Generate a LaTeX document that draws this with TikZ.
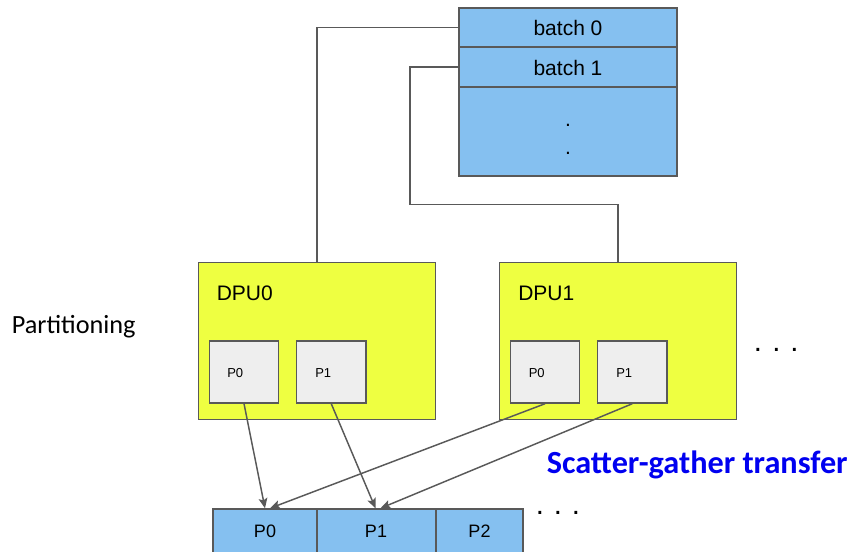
\documentclass[tikz,border=0pt]{standalone}
\usepackage{fontspec}
\setmainfont{Liberation Sans}
\newfontfamily\calibri{Carlito}
\usetikzlibrary{fit,calc,arrows.meta}

\definecolor{edgegray}{RGB}{89,89,89}
\definecolor{batchblue}{RGB}{133,192,240}
\definecolor{dpuyellow}{RGB}{238,255,65}
\definecolor{partgray}{RGB}{238,238,238}
\definecolor{titleblue}{RGB}{0,0,240}

\newcommand{\fs}[1]{\fontsize{#1}{1.2\dimexpr#1pt\relax}\selectfont}

\tikzset{
  box/.style={draw=edgegray, line width=1.1pt, inner sep=0pt},
  batchbox/.style={box, fill=batchblue},
  dpubox/.style={box, fill=dpuyellow},
  partbox/.style={box, fill=partgray},
  outbox/.style={box, fill=batchblue},
  wire/.style={draw=edgegray, line width=1.1pt},
  xfer/.style={wire, -{Stealth[length=7.5pt,width=6.5pt,inset=1.5pt]}},
  lbl/.style={inner sep=0pt, anchor=west},
  txt/.style={inner sep=0pt},
  dot/.style={inner sep=0pt, font=\fs{22}},
}

\begin{document}
\begin{tikzpicture}[x=0.75pt,y=-0.75pt]
\useasboundingbox (0,0) rectangle (853,552);
\clip (0,0) rectangle (853,552);

% batch buffer
\node[batchbox, fit={(459,8)(677,47)}] (b0) {};
\node[batchbox, fit={(459,47)(677,87)}] (b1) {};
\node[batchbox, fit={(459,87)(677,176)}] (brest) {};
\node[txt, font=\fs{15.75}] (b0l) at (568,28) {batch 0};
\node[txt, font=\fs{15.75}] (b1l) at (568,68) {batch 1};
\node[txt, font=\fs{15.75}] (bd1) at (568,125) {.};
\node[txt, font=\fs{15.75}] (bd2) at (568,153) {.};

% DPUs
\node[dpubox, fit={(198.5,262.5)(435.5,419.5)}] (dpu0) {};
\node[dpubox, fit={(499.5,262.5)(736.5,419.5)}] (dpu1) {};
\node[lbl, font=\fs{15.75}] (dpu0l) at (216.5,293) {DPU0};
\node[lbl, font=\fs{15.75}] (dpu1l) at (518,293) {DPU1};

\node[partbox, fit={(209.5,341)(278.5,403)}] (d0p0) {};
\node[partbox, fit={(296.5,341)(366,403)}] (d0p1) {};
\node[partbox, fit={(510.5,341)(579.5,403)}] (d1p0) {};
\node[partbox, fit={(597.5,341)(667,403)}] (d1p1) {};
\node[lbl, font=\fs{9.75}] (d0p0l) at (227,373) {P0};
\node[lbl, font=\fs{9.75}] (d0p1l) at (315,373) {P1};
\node[lbl, font=\fs{9.75}] (d1p0l) at (528.5,373) {P0};
\node[lbl, font=\fs{9.75}] (d1p1l) at (616,373) {P1};

% gathered output buffer
\node[outbox, fit={(213,509)(317,556)}] (o0) {};
\node[outbox, fit={(317,509)(436,556)}] (o1) {};
\node[outbox, fit={(436,509)(523,556)}] (o2) {};
\node[txt, font=\fs{13.5}] (o0l) at (265,531) {P0};
\node[txt, font=\fs{13.5}] (o1l) at (376,531) {P1};
\node[txt, font=\fs{13.5}] (o2l) at (479.5,531) {P2};

% batch -> DPU links
\draw[wire] (b0.west) -| (dpu0.north);
\coordinate (k1) at (410,204.5);
\draw[wire] (b1.west) -| (k1) -| (dpu1.north);

% scatter-gather transfers
\draw[xfer] (d0p0.south) -- ($(o0.north)+(0,0)$);
\draw[xfer] (d1p0.south) -- ($(o0.north)+(5,0)$);
\draw[xfer] (d0p1.south) -- ($(o1.north)+(-1,0)$);
\draw[xfer] (d1p1.south) -- ($(o1.north)+(4,0)$);

% labels and ellipses
\node[lbl, font=\calibri\fs{19.7}] (part) at (11.5,327) {Partitioning};
\node[lbl, font=\calibri\bfseries\fs{24.2}, text=titleblue] (sg) at (546.5,465) {Scatter-gather transfer};
\node[dot] (e1a) at (758,349.5) {.};
\node[dot] (e1b) at (776.5,349.5) {.};
\node[dot] (e1c) at (794.5,349.5) {.};
\node[dot] (e2a) at (540,512.5) {.};
\node[dot] (e2b) at (558,512.5) {.};
\node[dot] (e2c) at (576,512.5) {.};
\end{tikzpicture}
\end{document}
